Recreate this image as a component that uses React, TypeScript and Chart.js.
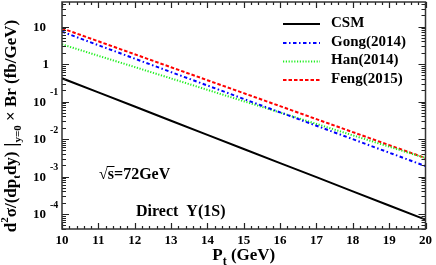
import React, { useEffect, useRef } from "react";
import { Chart, registerables } from "chart.js";

Chart.register(...registerables);

// ---- data ----
const ptValues = [10, 11, 12, 13, 14, 15, 16, 17, 18, 19, 20];
const csmValues = [0.416, 0.175, 0.0736, 0.0308, 0.0129, 0.00544, 0.00229, 0.000964, 0.000403, 0.000169, 0.0000713];
const gongValues = [7.27, 3.18, 1.39, 0.61, 0.268, 0.117, 0.0515, 0.0226, 0.00993, 0.00434, 0.0019];
const hanValues = [3.35, 1.66, 0.83, 0.413, 0.205, 0.102, 0.0509, 0.0253, 0.01256, 0.00627, 0.00311];
const fengValues = [8.95, 4.03, 1.82, 0.82, 0.37, 0.167, 0.0753, 0.0339, 0.0153, 0.0069, 0.00311];
const seriesLabels = ["CSM", "Gong(2014)", "Han(2014)", "Feng(2015)"];
const seriesColors = ["#000000", "#0000ff", "#22ee22", "#ff0000"];
const seriesDashes: number[][] = [[], [3.5, 2.5, 1.5, 2.5], [1.2, 1.6], [3.5, 2]];
const xTickValues = [10, 11, 12, 13, 14, 15, 16, 17, 18, 19, 20];
const yDecades = [-4, -3, -2, -1, 0, 1];
const xMin = 10;
const xMax = 20;
const yMin = 4e-5;
const yMax = 45;

const SERIF = '"Liberation Serif", "Times New Roman", serif';

function drawRuns(ctx: CanvasRenderingContext2D, runs: { t: string; s: number; dy: number }[], x0: number, y0: number) {
  let x = x0;
  for (const r of runs) {
    ctx.font = `bold ${r.s}px ${SERIF}`;
    ctx.fillText(r.t, x, y0 + r.dy);
    x += ctx.measureText(r.t).width;
  }
  return x;
}
function measureRuns(ctx: CanvasRenderingContext2D, runs: { t: string; s: number; dy: number }[]) {
  let w = 0;
  for (const r of runs) {
    ctx.font = `bold ${r.s}px ${SERIF}`;
    w += ctx.measureText(r.t).width;
  }
  return w;
}

const framePlugin = {
  id: "physFrame",
  afterDraw(chart: any) {
    const { ctx, chartArea: a, scales } = chart;
    const xs = scales.x;
    const ys = scales.y;
    ctx.save();
    ctx.fillStyle = "#000";
    ctx.strokeStyle = "#222";
    ctx.lineWidth = 1.2;
    // ticks on x (bottom & top)
    const step = xTickValues[1] - xTickValues[0];
    ctx.beginPath();
    for (let i = 0; i < xTickValues.length; i++) {
      const v = xTickValues[i];
      const px = Math.round(xs.getPixelForValue(v)) + 0.5;
      ctx.moveTo(px, a.bottom); ctx.lineTo(px, a.bottom - 6);
      ctx.moveTo(px, a.top); ctx.lineTo(px, a.top + 6);
      if (i < xTickValues.length - 1) {
        for (let k = 1; k < 5; k++) {
          const pm = Math.round(xs.getPixelForValue(v + (k * step) / 5)) + 0.5;
          ctx.moveTo(pm, a.bottom); ctx.lineTo(pm, a.bottom - 3);
          ctx.moveTo(pm, a.top); ctx.lineTo(pm, a.top + 3);
        }
      }
    }
    // ticks on y (left & right)
    for (let d = yDecades[0] - 1; d <= yDecades[yDecades.length - 1] + 1; d++) {
      for (let m = 1; m <= 9; m++) {
        const v = m * Math.pow(10, d);
        if (v < yMin || v > yMax) continue;
        const py = Math.round(ys.getPixelForValue(v)) + 0.5;
        const len = m === 1 ? 7 : 4;
        ctx.moveTo(a.left, py); ctx.lineTo(a.left + len, py);
        ctx.moveTo(a.right, py); ctx.lineTo(a.right - len, py);
      }
    }
    ctx.stroke();
    // frame
    ctx.lineWidth = 1.5;
    ctx.strokeStyle = "#333";
    ctx.strokeRect(a.left, a.top, a.right - a.left, a.bottom - a.top);

    // y tick labels
    ctx.textBaseline = "middle";
    for (const d of yDecades) {
      const py = ys.getPixelForValue(Math.pow(10, d));
      ctx.textAlign = "right";
      ctx.font = `bold 13px ${SERIF}`;
      if (d === 0) {
        ctx.fillText("1", 49, py + 1);
      } else {
        ctx.fillText("10", 46, py + 1);
        if (d !== 1) {
          ctx.textAlign = "left";
          ctx.font = `bold 10px ${SERIF}`;
          ctx.fillText(String(d), 50, py - 9);
        }
      }
    }

    // x axis title: P_t (GeV)
    ctx.textAlign = "left";
    ctx.textBaseline = "alphabetic";
    const xt = [
      { t: "P", s: 17, dy: 0 },
      { t: "t", s: 12, dy: 5 },
      { t: " (GeV)", s: 17, dy: 0 },
    ];
    const xw = measureRuns(ctx, xt);
    drawRuns(ctx, xt, (a.left + a.right) / 2 - xw / 2, 260);

    // y axis title (rotated)
    const yt = [
      { t: "d", s: 17, dy: 0 },
      { t: "2", s: 11, dy: -8 },
      { t: "σ/(dp", s: 17, dy: 0 },
      { t: "t", s: 11, dy: 4 },
      { t: "dy)", s: 17, dy: 0 },
      { t: " |", s: 19, dy: 1 },
      { t: "y=0", s: 11, dy: 5 },
      { t: " × Br (fb/GeV)", s: 17, dy: 0 },
    ];
    ctx.save();
    ctx.translate(16, 126);
    ctx.rotate(-Math.PI / 2);
    const yw = measureRuns(ctx, yt);
    drawRuns(ctx, yt, -yw / 2, 0);
    ctx.restore();

    // legend
    const rows = [24, 43, 61.5, 80];
    chart.data.datasets.forEach((ds: any, i: number) => {
      ctx.save();
      ctx.strokeStyle = ds.borderColor;
      ctx.lineWidth = 2;
      ctx.setLineDash(ds.borderDash || []);
      ctx.beginPath();
      ctx.moveTo(283, rows[i]);
      ctx.lineTo(320, rows[i]);
      ctx.stroke();
      ctx.restore();
      ctx.font = `bold 15px ${SERIF}`;
      ctx.textAlign = "left";
      ctx.textBaseline = "middle";
      ctx.fillStyle = "#000";
      ctx.fillText(ds.label, 331, rows[i] - 1);
    });

    // annotations
    ctx.textBaseline = "alphabetic";
    ctx.textAlign = "left";
    ctx.font = `bold 16px ${SERIF}`;
    const sqrtW = ctx.measureText("√").width;
    ctx.fillText("√", 99, 179);
    const sW = ctx.measureText("s").width;
    ctx.fillText("s=72GeV", 99 + sqrtW, 179);
    ctx.lineWidth = 1;
    ctx.strokeStyle = "#000";
    ctx.beginPath();
    ctx.moveTo(99 + sqrtW - 1, 166.5);
    ctx.lineTo(99 + sqrtW + sW + 0.5, 166.5);
    ctx.stroke();
    ctx.fillText("Direct  Υ(1S)", 136, 216);

    ctx.restore();
  },
};

export default function App() {
  const ref = useRef<HTMLCanvasElement | null>(null);
  useEffect(() => {
    document.body.style.margin = "0";
    const canvas = ref.current;
    if (!canvas) return;
    const series = [csmValues, gongValues, hanValues, fengValues];
    const chart = new Chart(canvas, {
      type: "line",
      data: {
        datasets: series.map((vals, i) => ({
          label: seriesLabels[i],
          data: ptValues.map((x, j) => ({ x, y: vals[j] })),
          borderColor: seriesColors[i],
          borderWidth: 2,
          borderDash: seriesDashes[i],
          pointRadius: 0,
          fill: false,
          tension: 0,
        })),
      },
      options: {
        responsive: false,
        maintainAspectRatio: false,
        devicePixelRatio: 1,
        animation: false,
        layout: { padding: { left: 0, top: 2, right: 7, bottom: 0 } },
        plugins: { legend: { display: false }, tooltip: { enabled: false } },
        scales: {
          x: {
            type: "linear",
            min: xMin,
            max: xMax,
            grid: { display: false, drawTicks: false },
            border: { display: false },
            ticks: {
              stepSize: 1,
              color: "#000",
              padding: 4,
              maxRotation: 0,
              font: { family: SERIF, weight: "bold", size: 13 },
              callback: (v: any) => String(v),
            },
            afterFit: (s: any) => { s.height = 36; },
          },
          y: {
            type: "logarithmic",
            min: yMin,
            max: yMax,
            grid: { display: false, drawTicks: false },
            border: { display: false },
            ticks: { display: false },
            afterFit: (s: any) => { s.width = 62; },
          },
        },
      },
      plugins: [framePlugin],
    } as any);
    return () => chart.destroy();
  }, []);
  return (
    <div style={{ width: 436, height: 265 }}>
      <canvas ref={ref} width={436} height={265} style={{ display: "block" }} />
    </div>
  );
}
